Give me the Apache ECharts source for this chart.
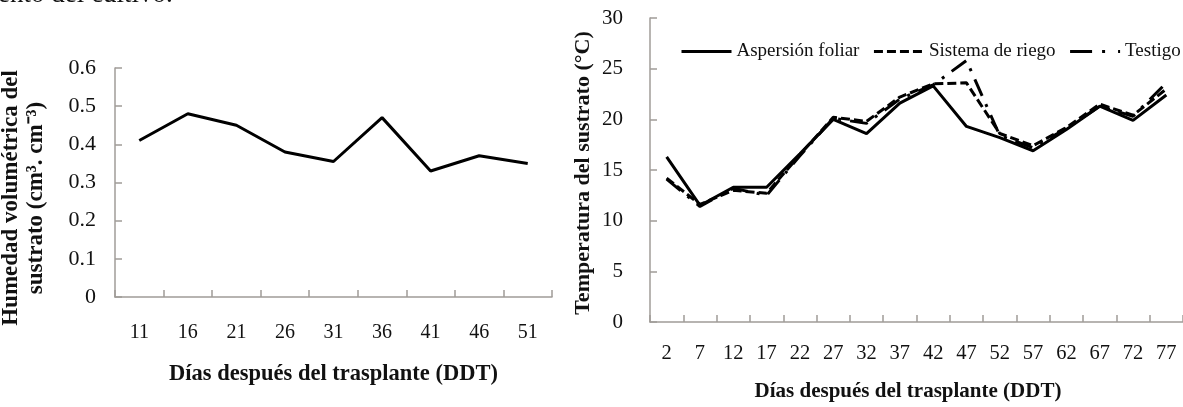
<!DOCTYPE html>
<html>
<head>
<meta charset="utf-8">
<script src="https://cdn.jsdelivr.net/npm/echarts@6/dist/echarts.min.js"></script>
<style>
  html, body { margin: 0; padding: 0; background: #fff; }
  #chart { width: 1183px; height: 407px; }
</style>
</head>
<body>
<div id="chart"></div>
<script>
// ---- Data ----
const humDays = ['11', '16', '21', '26', '31', '36', '41', '46', '51'];
const humedad = [0.41, 0.48, 0.45, 0.38, 0.355, 0.47, 0.33, 0.37, 0.35];

const tempDays = ['2', '7', '12', '17', '22', '27', '32', '37', '42', '47', '52', '57', '62', '67', '72', '77'];
const aspersion = [16.3, 11.5, 13.3, 13.3, 16.6, 20.0, 18.6, 21.6, 23.3, 19.3, 18.2, 16.9, 19.0, 21.3, 19.9, 22.4];
const riego     = [14.2, 11.6, 13.0, 12.7, 16.5, 20.2, 19.8, 22.2, 23.5, 23.6, 18.6, 17.4, 19.2, 21.5, 20.4, 23.0];
const testigo   = [14.1, 11.4, 13.2, 12.5, 16.4, 20.1, 19.6, 22.0, 23.4, 25.8, 18.4, 17.2, 19.1, 21.3, 20.3, 23.6];

const humTicks = { min: 0, max: 0.6, interval: 0.1 };
const tempTicks = { min: 0, max: 30, interval: 5 };

const seriesNames = ['Aspersión foliar', 'Sistema de riego', 'Testigo'];

// ---- Styles ----
const SERIF = '"Liberation Serif", "Times New Roman", serif';
const AXIS_COLOR = '#a09c98';
const TEXT_COLOR = '#111';
const DASH_RIEGO = [9, 4];
const DASH_TESTIGO = [18, 9, 3, 9];

function axisCommon() {
  return {
    axisLine: { show: true, lineStyle: { color: AXIS_COLOR, width: 1.5 } },
    axisTick: { show: true, inside: true, length: 7, lineStyle: { color: AXIS_COLOR, width: 1.5 } },
    splitLine: { show: false }
  };
}

const chart = echarts.init(document.getElementById('chart'), null, { renderer: 'canvas' });

const option = {
  backgroundColor: '#fff',
  animation: false,
  grid: [
    { left: 115, top: 68, width: 437, height: 229 },
    { left: 650, top: 18, width: 539, height: 305 }
  ],
  legend: {
    data: [
      { name: seriesNames[0] },
      { name: seriesNames[1] },
      { name: seriesNames[2], lineStyle: { type: [22, 10, 3, 13] } }
    ],
    left: 675,
    top: 37,
    width: 560,
    itemWidth: 50,
    itemHeight: 14,
    itemGap: 13,
    itemStyle: { opacity: 0 },
    lineStyle: { width: 3 },
    textStyle: { fontFamily: SERIF, fontSize: 19, color: TEXT_COLOR }
  },
  xAxis: [
    Object.assign(axisCommon(), {
      type: 'category', gridIndex: 0, data: humDays, boundaryGap: true,
      axisLabel: { margin: 26, fontFamily: SERIF, fontSize: 20, color: TEXT_COLOR },
      name: 'Días después del trasplante (DDT)',
      nameLocation: 'middle', nameGap: 66,
      nameTextStyle: { fontFamily: SERIF, fontSize: 22.5, fontWeight: 'bold', color: TEXT_COLOR }
    }),
    Object.assign(axisCommon(), {
      type: 'category', gridIndex: 1, data: tempDays, boundaryGap: true,
      axisLabel: { margin: 21, fontFamily: SERIF, fontSize: 20.5, color: TEXT_COLOR },
      name: 'Días después del trasplante (DDT)',
      nameLocation: 'middle', nameGap: 59,
      nameTextStyle: { fontFamily: SERIF, fontSize: 21, fontWeight: 'bold', color: TEXT_COLOR, padding: [0, 17, 0, 0] }
    })
  ],
  yAxis: [
    Object.assign(axisCommon(), {
      type: 'value', gridIndex: 0,
      min: humTicks.min, max: humTicks.max, interval: humTicks.interval,
      axisLabel: { margin: 19, fontFamily: SERIF, fontSize: 22, color: TEXT_COLOR }
    }),
    Object.assign(axisCommon(), {
      type: 'value', gridIndex: 1,
      min: tempTicks.min, max: tempTicks.max, interval: tempTicks.interval,
      axisLabel: { margin: 27, fontFamily: SERIF, fontSize: 21, color: TEXT_COLOR }
    })
  ],
  graphic: [
    {
      type: 'text', left: -2, top: -19,
      style: { text: 'ento del cultivo.', font: '27px ' + SERIF, fill: TEXT_COLOR }
    },
    {
      type: 'text', x: 24, y: 198, rotation: Math.PI / 2,
      style: {
        text: 'Humedad volumétrica del\nsustrato (cm³. cm⁻³)',
        font: 'bold 23px ' + SERIF, fill: TEXT_COLOR,
        align: 'center', verticalAlign: 'middle', textAlign: 'center', textVerticalAlign: 'middle',
        lineHeight: 25
      }
    },
    {
      type: 'text', x: 583, y: 173, rotation: Math.PI / 2,
      style: {
        text: 'Temperatura del sustrato (°C)',
        font: 'bold 22px ' + SERIF, fill: TEXT_COLOR,
        align: 'center', verticalAlign: 'middle', textAlign: 'center', textVerticalAlign: 'middle'
      }
    }
  ],
  series: [
    {
      name: 'Humedad', type: 'line', xAxisIndex: 0, yAxisIndex: 0,
      data: humedad, symbol: 'none',
      lineStyle: { color: '#000', width: 3 }
    },
    {
      name: seriesNames[0], type: 'line', xAxisIndex: 1, yAxisIndex: 1,
      data: aspersion, symbol: 'none',
      itemStyle: { color: '#000' },
      lineStyle: { color: '#000', width: 3, type: 'solid' }
    },
    {
      name: seriesNames[1], type: 'line', xAxisIndex: 1, yAxisIndex: 1,
      data: riego, symbol: 'none',
      itemStyle: { color: '#000' },
      lineStyle: { color: '#000', width: 3, type: DASH_RIEGO }
    },
    {
      name: seriesNames[2], type: 'line', xAxisIndex: 1, yAxisIndex: 1,
      data: testigo, symbol: 'none',
      itemStyle: { color: '#000' },
      lineStyle: { color: '#000', width: 3, type: DASH_TESTIGO }
    }
  ]
};

chart.setOption(option);
</script>
</body>
</html>
